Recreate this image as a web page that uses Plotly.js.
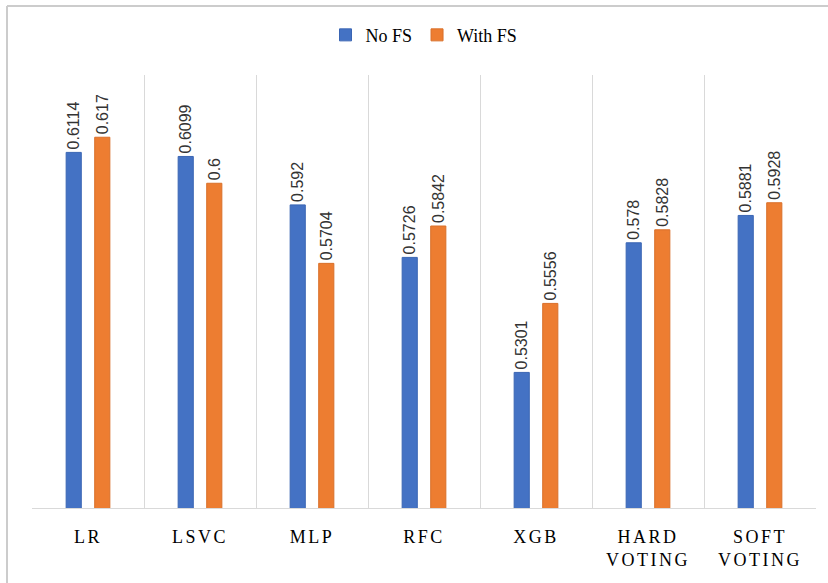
<!DOCTYPE html>
<html>
<head>
<meta charset="utf-8">
<script src="https://cdn.plot.ly/plotly-3.0.1.min.js"></script>
<style>
html,body{margin:0;padding:0;background:#fff;}
#chart{width:828px;height:583px;}
.xtick text{letter-spacing:2.5px;}
</style>
</head>
<body>
<div id="chart"></div>
<script>
const categories = ["LR", "LSVC", "MLP", "RFC", "XGB", "HARD<br>VOTING", "SOFT<br>VOTING"];
const noFS = [0.6114, 0.6099, 0.592, 0.5726, 0.5301, 0.578, 0.5881];
const withFS = [0.617, 0.6, 0.5704, 0.5842, 0.5556, 0.5828, 0.5928];
const seriesNames = ["No FS", "With FS"];

function fmt(v){ return String(v); }

const labelFont = {family: "Liberation Sans, Arial, sans-serif", size: 16, color: "#333333"};

const traces = [
  {type: "bar", name: seriesNames[0], x: categories, y: noFS,
   marker: {color: "#4472C4", line: {color: "#3a65b3", width: 1}},
   text: noFS.map(fmt), textposition: "outside", textangle: -90, constraintext: "none",
   textfont: labelFont, cliponaxis: false},
  {type: "bar", name: seriesNames[1], x: categories, y: withFS,
   marker: {color: "#ED7D31", line: {color: "#d9702a", width: 1}},
   text: withFS.map(fmt), textposition: "outside", textangle: -90, constraintext: "none",
   textfont: labelFont, cliponaxis: false}
];

const L = 32, T = 75, W = 784, H = 433;
const fx = (px) => (px - L) / W;
const fy = (py) => 1 - (py - T) / H;
const frame = {color: "#cccccc", width: 2};

const layout = {
  width: 828, height: 583,
  margin: {l: L, r: 12, t: T, b: 75},
  paper_bgcolor: "#ffffff", plot_bgcolor: "#ffffff",
  barmode: "group", bargap: 0.49, bargroupgap: 0.47,
  showlegend: true,
  legend: {orientation: "h", x: 0.5, xanchor: "center", y: 1.092, yanchor: "middle",
           font: {family: "Liberation Serif, Times New Roman, serif", size: 18, color: "#000"},
           itemwidth: 30, tracegroupgap: 0},
  xaxis: {type: "category", tickson: "boundaries", showgrid: true, gridcolor: "#d9d9d9", gridwidth: 1,
          showline: true, linecolor: "#d9d9d9", linewidth: 1, ticks: "", ticklabelstandoff: 12,
          tickfont: {family: "Liberation Serif, Times New Roman, serif", size: 18, color: "#000"},
          zeroline: false},
  yaxis: {range: [0.48, 0.64], showgrid: false, showticklabels: false, zeroline: false, showline: false, ticks: ""},
  shapes: [
    {type: "line", xref: "paper", yref: "paper", layer: "above",
     x0: fx(7), x1: fx(7), y0: fy(583), y1: fy(6), line: frame},
    {type: "line", xref: "paper", yref: "paper", layer: "above",
     x0: fx(7), x1: fx(828), y0: fy(6), y1: fy(6), line: frame}
  ]
};

Plotly.newPlot("chart", traces, layout, {displayModeBar: false, staticPlot: true});
</script>
</body>
</html>
